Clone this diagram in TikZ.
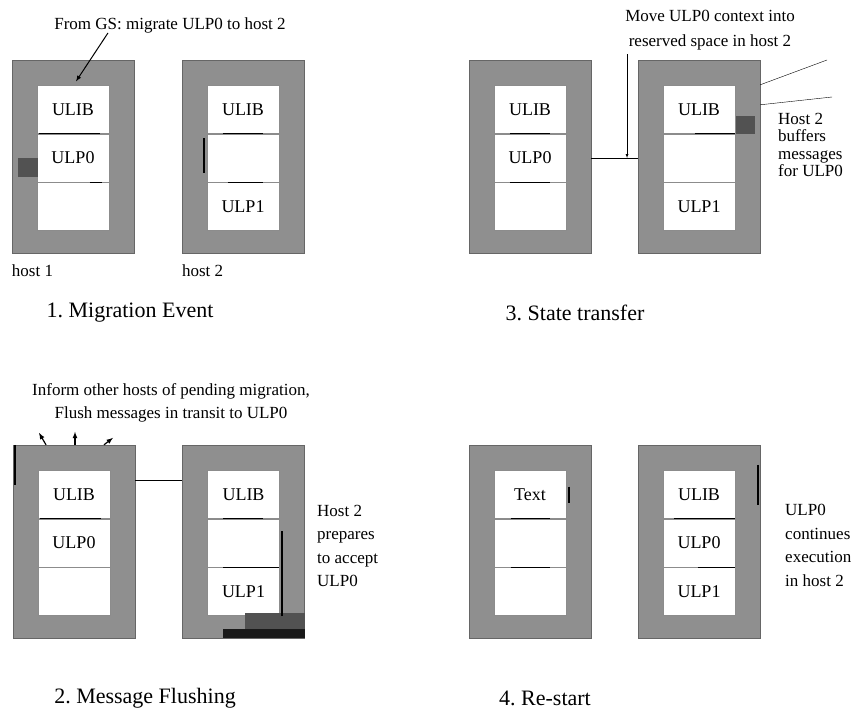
\documentclass[tikz,border=0pt]{standalone}
\usepackage{fontspec}
\setmainfont{Liberation Serif}
\usetikzlibrary{positioning}
\frenchspacing

\definecolor{hostgray}{gray}{0.56}

% one host: outer frame and its three slots
\newcommand{\drawhost}[5]{%
  \node[hostbox] (#1) at (#2) {};
  \node[slot] (#1-b) at ([yshift=-1.5pt]#1.center) {#4};
  \node[slot, above=0pt of #1-b] (#1-a) {#3};
  \node[slot, below=0pt of #1-b] (#1-c) {#5};
}

\begin{document}
\begin{tikzpicture}[>=latex, x=1pt, y=-1pt,
  hostbox/.style={draw=black!60, fill=hostgray, minimum width=122pt, minimum height=193pt, inner sep=0pt},
  slot/.style={draw=black!45, fill=white, minimum width=72pt, minimum height=48pt, inner sep=0pt, font=\fontsize{18}{20}\selectfont},
  seg/.style={line width=1.3pt},
  blip/.style={line width=2.2pt},
  darkpatch/.style={fill=black!68},
  note/.style={font=\fontsize{17}{18}\selectfont, inner sep=0pt},
  title/.style={font=\fontsize{22}{24}\selectfont, inner sep=0pt}]
\useasboundingbox (0,0) rectangle (862,712);

% 1. Migration Event
\drawhost{p1h1}{73,156.5}{ULIB}{ULP0}{}
\drawhost{p1h2}{243,156.5}{ULIB}{}{ULP1}
\node[note] (gs) at (170,25) {From GS: migrate ULP0 to host 2};
\draw[->, line width=1pt] ([xshift=-62pt]gs.south) -- ([xshift=3pt,yshift=4pt]p1h1-a.north);
\fill[darkpatch] (p1h1.west |- p1h1-b) ++(6,0) rectangle ++(20,19);
\draw[blip] ([xshift=-3pt]p1h2-b.west) ++(0,-20) -- ++(0,35);
\node[note, anchor=north west] (hl1) at ([yshift=-11pt]p1h1.south west) {host 1};
\node[note, anchor=north west] (hl2) at ([yshift=-11pt]p1h2.south west) {host 2};
\node[title] (t1) at (130,313) {1. Migration Event};

% 3. State transfer
\drawhost{p3h1}{530,156.5}{ULIB}{ULP0}{}
\drawhost{p3h2}{699,156.5}{ULIB}{}{ULP1}
\node[note, align=center, font=\fontsize{17}{25}\selectfont] (mv) at (710,30) {Move ULP0 context into\\reserved space in host 2};
\coordinate (mvtop) at ([xshift=2pt,yshift=-4pt]mv.south west);
\draw[thick] (p3h1.east |- p3h1-b) -- (p3h2.west |- p3h1-b);
\draw[->] (mvtop) -- (mvtop |- p3h1-b);
\coordinate (lk1) at (827,60);
\coordinate (lk2) at (832,97);
\draw ([yshift=-25pt]p3h2.north east) -- (lk1);
\draw ([yshift=-45pt]p3h2.north east) -- (lk2);
\fill[darkpatch] (p3h2-a.south east) ++(1,0) rectangle ++(19,-18);
\node[note, anchor=north west, align=left, font=\fontsize{17}{17.5}\selectfont] (buf) at (778,113) {Host 2\\buffers\\messages\\for ULP0};
\node[title] (t3) at (575,313) {3. State transfer};

% 2. Message Flushing
\drawhost{p2h1}{74,541.5}{ULIB}{ULP0}{}
\drawhost{p2h2}{243.5,541.5}{ULIB}{}{ULP1}
\node[note, align=center, font=\fontsize{17}{23}\selectfont] (fl) at (171,403) {Inform other hosts of pending migration,\\Flush messages in transit to ULP0};
\draw[->, line width=1.2pt] ([xshift=-28pt]p2h1.north) -- ++(-7,-12);
\draw[->, line width=1.2pt] ([xshift=1pt]p2h1.north) -- ++(0,-13);
\draw[->, line width=1.2pt] ([xshift=30pt]p2h1.north) -- ++(9,-7);
\draw[blip] ([xshift=2pt]p2h1.north west) -- ++(0,40);
\draw[thick] ([yshift=-36pt]p2h1.north east) -- ([yshift=-36pt]p2h2.north west);
\fill[darkpatch] ([xshift=-60pt]p2h2.south east) rectangle ([yshift=25pt]p2h2.south east);
\fill[black!90] ([xshift=-82pt]p2h2.south east) rectangle ([yshift=9pt]p2h2.south east);
\draw[blip] ([xshift=2pt]p2h2-c.south east) -- ++(0,-85);
\node[note, anchor=north west, align=left, font=\fontsize{17}{23.5}\selectfont] (prep) at (317,505) {Host 2\\prepares\\to accept\\ULP0};
\node[title] (t2) at (145,698) {2. Message Flushing};

% 4. Re-start
\drawhost{p4h1}{530,541.5}{Text}{}{}
\drawhost{p4h2}{699,541.5}{ULIB}{ULP0}{ULP1}
\draw[blip] ([xshift=3pt,yshift=8pt]p4h1-a.east) -- ([xshift=3pt,yshift=-8pt]p4h1-a.east);
\draw[blip] ([xshift=-2pt,yshift=-20pt]p4h2.north east) -- ++(0,40);
\node[note, anchor=north west, align=left, font=\fontsize{17}{23.5}\selectfont] (cont) at (785,504) {ULP0\\continues\\execution\\in host 2};
\node[title] (t4) at (545,698) {4. Re-start};

% black parts of the slot borders
\foreach \n/\s/\l in {p1h1-a/2/61, p1h1-b/53/12, p1h2-a/16/40, p1h2-b/21/35,
  p3h1-a/16/40, p3h1-b/16/40, p3h2-a/32/40, p2h1-a/2/61, p2h2-a/16/40, p2h2-b/16/56,
  p4h1-a/17/39, p4h1-b/17/39, p4h2-a/11/61, p4h2-b/35/37}
  \draw[seg] ([xshift=\s pt]\n.south west) -- ++(\l,0);
\end{tikzpicture}
\end{document}
